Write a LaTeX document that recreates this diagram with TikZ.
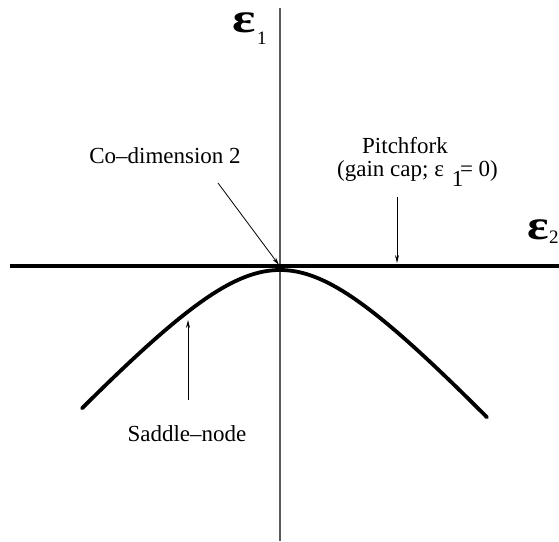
\documentclass[tikz,border=0pt]{standalone}
\usepackage{fontspec}
\setmainfont{Liberation Serif}
\usetikzlibrary{arrows.meta}
\begin{document}
\begin{tikzpicture}[x=1pt,y=1pt,
  lbl/.style={font=\fontsize{23}{25}\selectfont, inner sep=0pt, anchor=base},
  eps/.style={font=\fontsize{42}{44}\selectfont\bfseries, inner sep=0pt, anchor=base west},
  sub/.style={font=\fontsize{19}{20}\selectfont, inner sep=0pt, anchor=base west},
  pointer/.style={line width=0.8pt, -{Stealth[length=8pt,width=4pt]}},
  axis/.style={line width=1.2pt, draw=black!65},
  bigline/.style={line width=4pt},
  curve/.style={line width=3.8pt}]
\useasboundingbox (0,0) rectangle (559,541);
% axes
\coordinate (vtop) at (280,533);
\coordinate (vbot) at (280,0);
\draw[axis] (vtop) -- (vbot);
\coordinate (hleft) at (10,275);
\coordinate (hright) at (559,275);
\draw[bigline] (hleft) -- (hright);
% saddle-node curve
\draw[curve, line cap=round] plot[domain=-198:207, samples=120, variable=\t]
  ({280+\t},{271-102.3*(sqrt(1+(\t/93)^2)-1)});
\coordinate (origin) at (279,276);
% axis labels
\node[eps] (e1) at (232,508) {\scalebox{1.3}[1]{ε}};
\node[sub] (e1s) at (257,496) {1};
\node[eps] (e2) at (527,301) {\scalebox{1.2}[1]{ε}};
\node[sub] (e2s) at (549,297) {2};
% labels
\node[lbl] (codim) at (165,377) {Co–dimension 2};
\node[lbl] (pitch) at (405,387) {Pitchfork};
\node[lbl, anchor=base west] (gain) at (337,364) {(gain cap; ε\hspace{0.35em}\raisebox{-10pt}{1}\kern-0.15em= 0)};
\node[lbl] (saddle) at (187,100) {Saddle–node};
% pointers
\coordinate (cdtail) at (218,358);
\draw[pointer] (cdtail) -- (origin);
\coordinate (pftail) at (397,344);
\coordinate (pftip) at (397,278);
\draw[pointer] (pftail) -- (pftip);
\coordinate (sntail) at (188,141);
\coordinate (sntip) at (188,221);
\draw[pointer] (sntail) -- (sntip);
\end{tikzpicture}
\end{document}
